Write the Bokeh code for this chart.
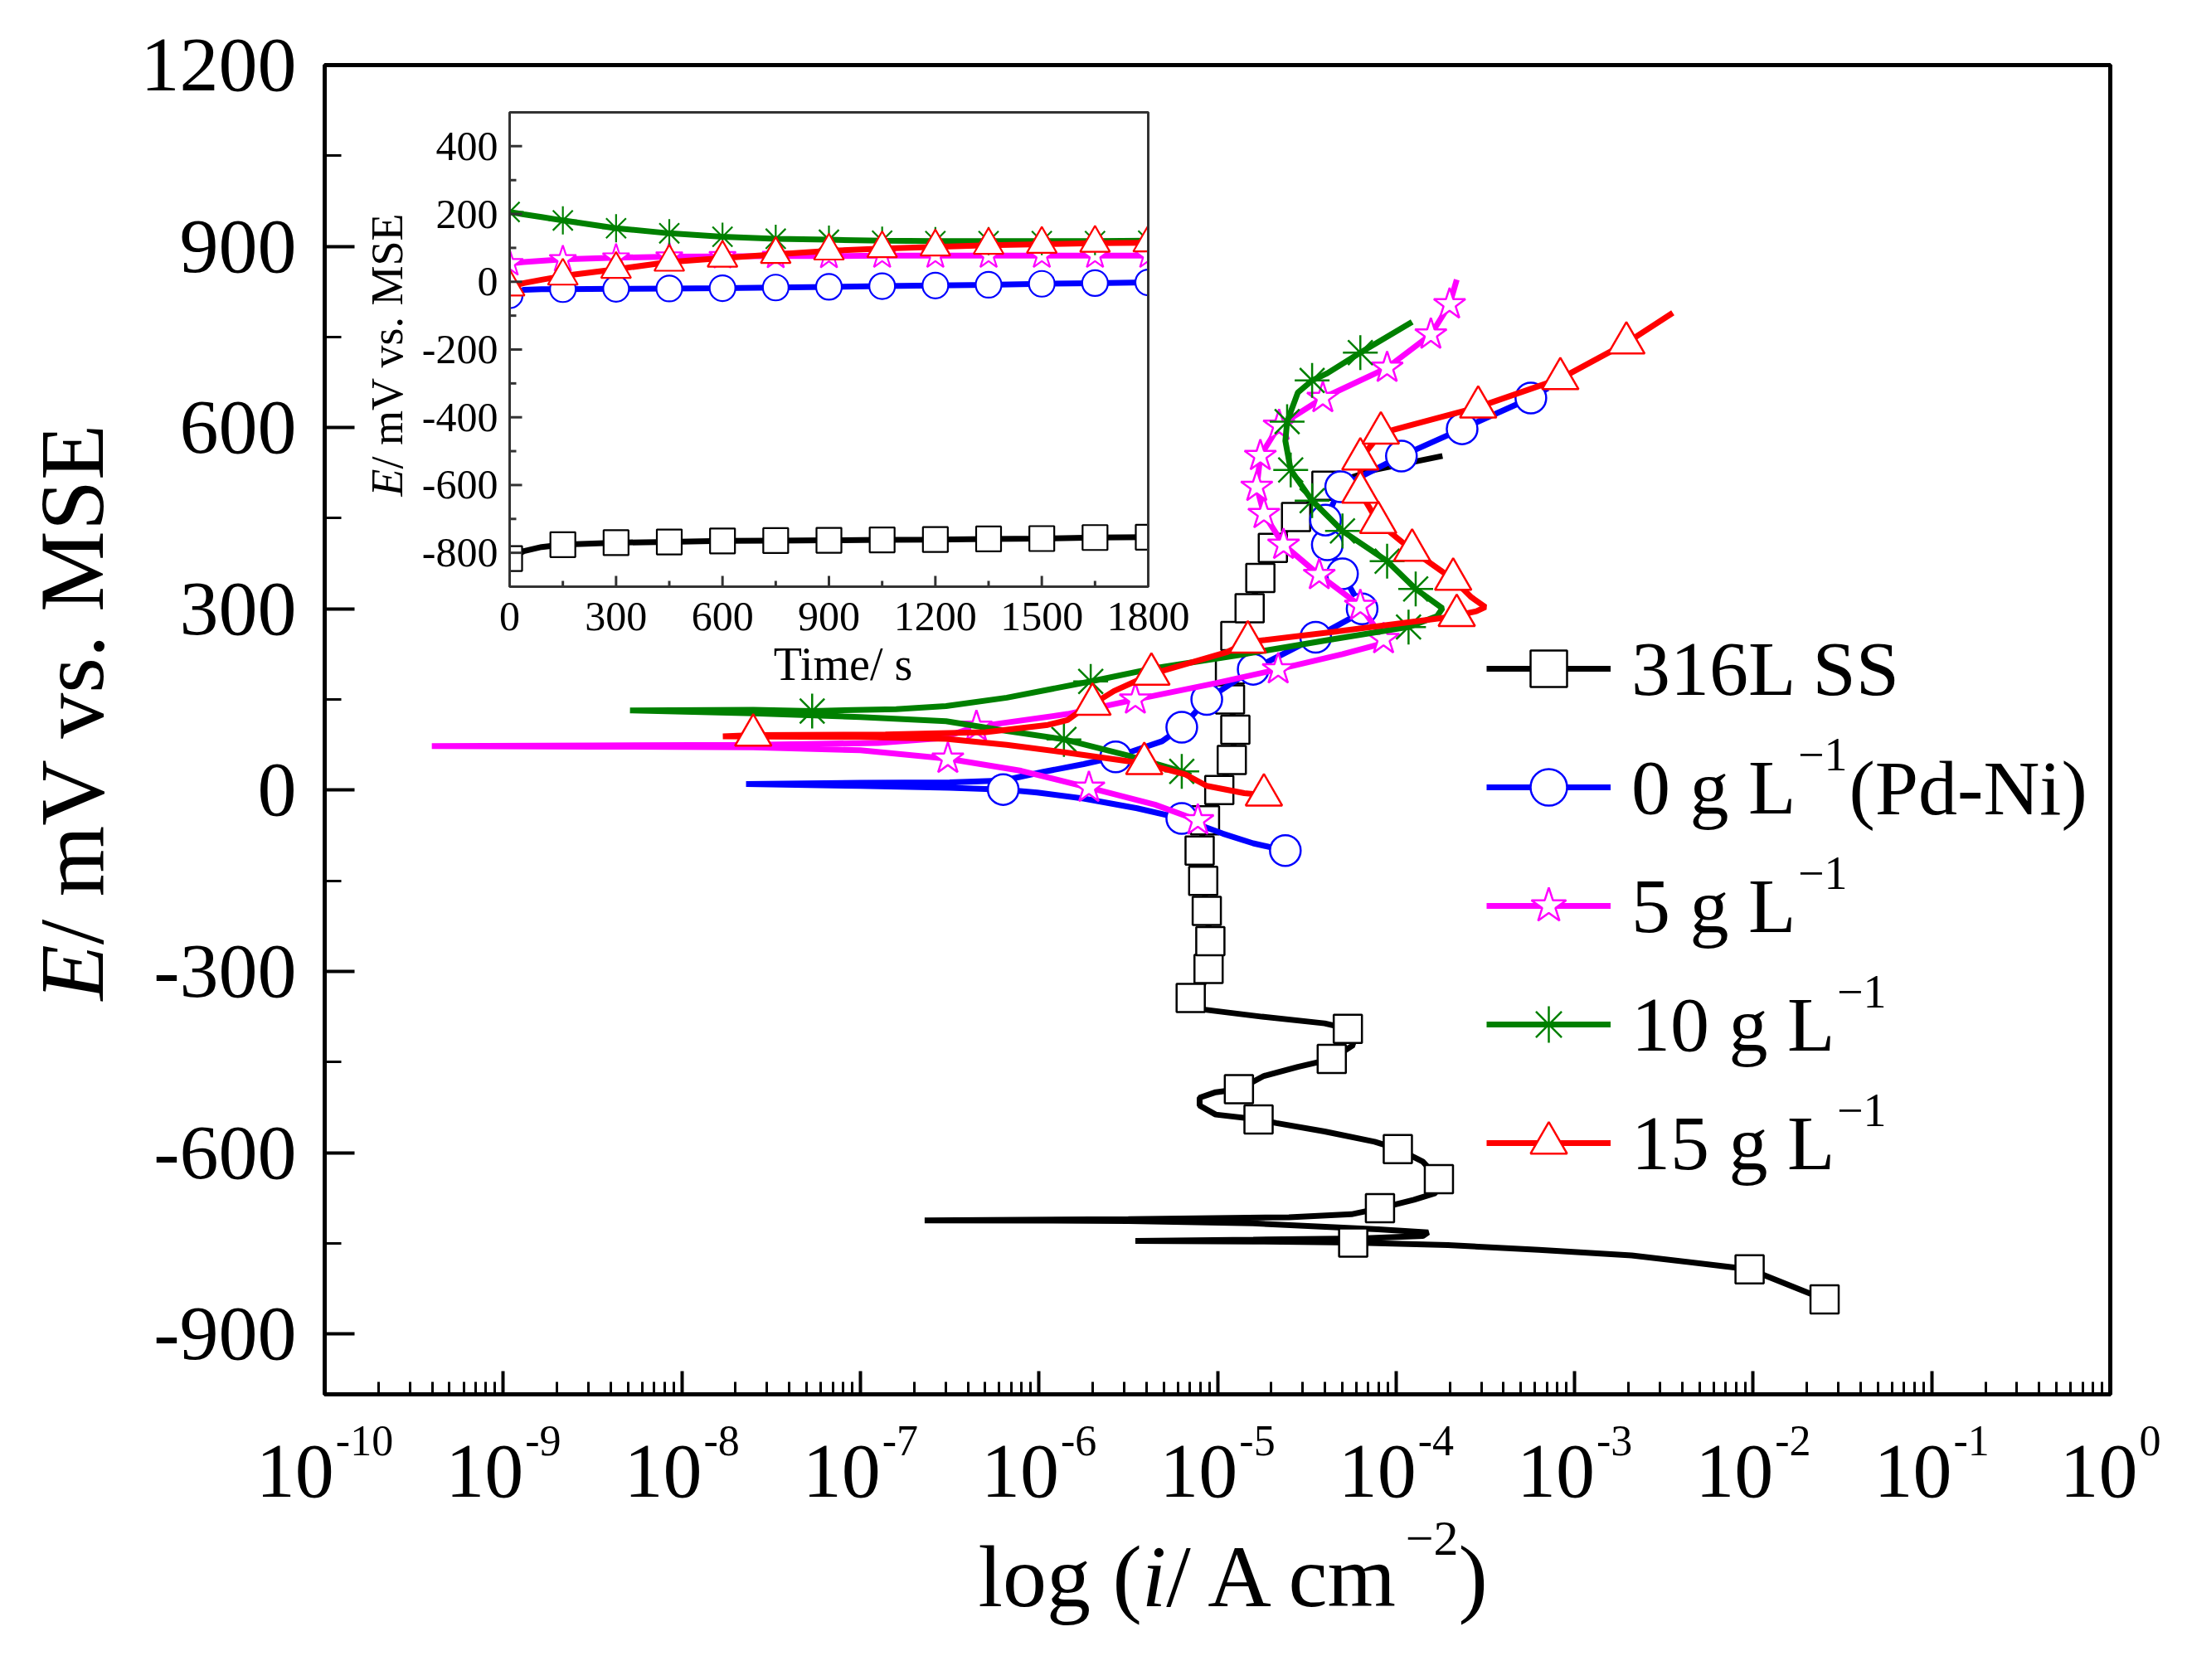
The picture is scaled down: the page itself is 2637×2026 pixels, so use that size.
import numpy as np
from bokeh.plotting import figure
from bokeh.layouts import row, column
from bokeh.models import (Range1d, FixedTicker, Label, Legend, LegendItem,
                          CustomJSTickFormatter, LinearScale)
from bokeh.embed import file_html
from bokeh.resources import INLINE
from bokeh.core.properties import value

# ---------------- main polarization curves: log10(i / A cm^-2) and E / mV vs. MSE ----------------
ss_logi = [-1.60, -2.02, -2.68, -3.20, -3.71, -4.24, -4.80, -5.46, -4.80, -4.20, -3.85, -3.82, -4.10,
           -4.80, -5.50, -6.64, -5.50, -4.60, -4.25, -4.09, -3.90, -3.78, -3.76, -3.85, -3.99, -4.12,
           -4.40, -4.67, -4.77, -5.01, -5.10, -5.10, -5.01, -4.88, -4.74, -4.55, -4.36, -4.24, -4.27,
           -4.40, -4.75, -5.08, -5.15, -5.08, -5.05, -5.04, -5.06, -5.08, -5.10, -5.07, -4.99, -4.92,
           -4.90, -4.93, -4.93, -4.90, -4.82, -4.76, -4.69, -4.56, -4.39, -4.12, -3.74]
ss_E = [-843, -793, -770, -761, -753, -749, -747, -746, -744, -742, -738, -732, -727, -717, -713, -712,
        -710, -707, -702, -692, -678, -667, -644, -615, -594, -582, -565, -551, -545, -537, -522, -509,
        -500, -495, -473, -458, -445, -422, -395, -386, -375, -363, -344, -322, -296, -250, -200, -150,
        -100, -50, 0, 50, 100, 150, 200, 255, 301, 351, 401, 452, 504, 530, 553]
ss_mk = [0, 1, 5, 19, 22, 24, 28, 33, 36, 38, 42, 44, 45, 46, 47, 48, 49, 50, 51, 52, 53, 54, 55, 56,
         57, 58, 59, 60]

bl_logi = [-4.62, -4.80, -4.97, -5.20, -5.45, -5.75, -6.01, -6.20, -6.50, -7.00, -7.64, -7.00, -6.50,
           -6.20, -5.98, -5.75, -5.57, -5.31, -5.20, -5.06, -4.80, -4.45, -4.25, -4.19, -4.30, -4.385,
           -4.395, -4.31, -3.97, -3.63, -3.245, -3.15]
bl_E = [-100, -88, -72, -47, -30, -14, -4, 1, 4, 7, 10, 12, 13, 16, 30, 43, 55, 81, 104, 150, 200, 253,
        285, 300, 358, 406, 447, 502, 553, 598, 649, 665]
bl_mk = [0, 3, 7, 16, 18, 19, 20, 21, 23, 24, 25, 26, 27, 28, 29, 30]

mg_logi = [-5.11, -5.35, -5.72, -6.10, -6.51, -7.00, -7.60, -8.50, -9.40, -8.50, -7.60, -6.90, -6.55,
           -6.35, -5.84, -5.46, -5.01, -4.66, -4.30, -4.10, -4.07, -4.20, -4.43, -4.63, -4.74, -4.78,
           -4.76, -4.655, -4.41, -4.05, -3.805, -3.70, -3.66]
mg_E = [-50, -24, 4, 32, 52, 66, 71, 72, 73, 74, 75, 78, 86, 105, 126, 150, 177, 200, 225, 241, 250,
        305, 356, 406, 457, 502, 553, 603, 649, 699, 754, 804, 845]
mg_mk = [0, 2, 4, 13, 15, 17, 20, 21, 22, 23, 24, 25, 26, 27, 28, 29, 30, 31]

gr_logi = [-5.15, -5.20, -5.51, -5.86, -6.18, -6.52, -7.00, -7.60, -8.29, -7.60, -7.27, -6.80, -6.52,
           -6.18, -5.71, -5.35, -4.85, -4.35, -3.93, -3.77, -3.74, -3.89, -4.05, -4.30, -4.47, -4.59,
           -4.62, -4.61, -4.55, -4.47, -4.385, -4.20, -3.91]
gr_E = [24, 31, 58, 84, 98, 114, 121, 127, 132, 133, 131, 134, 139, 153, 180, 202, 225, 250, 270, 288,
        301, 333, 379, 429, 479, 530, 578, 610, 658, 678, 690, 724, 775]
gr_mk = [1, 3, 10, 14, 18, 21, 22, 23, 24, 25, 27, 29, 31]

rd_logi = [-4.74, -4.85, -5.06, -5.18, -5.41, -5.84, -6.18, -6.52, -7.00, -7.77, -7.60, -6.86, -6.30,
           -5.95, -5.84, -5.75, -5.70, -5.58, -5.37, -4.95, -4.83, -4.35, -3.74, -3.66, -3.55, -3.50,
           -3.577, -3.68, -3.91, -4.10, -4.20, -4.20, -4.085, -4.02, -3.54, -3.08, -2.71, -2.45]
rd_E = [-8, -5, 7, 26, 44, 62, 75, 85, 88, 89, 91, 92, 96, 108, 116, 135, 142, 164, 192, 228, 245, 262,
        285, 289, 296, 303, 319, 349, 397, 443, 493, 548, 591, 596, 634, 681, 740, 790]
rd_mk = [0, 4, 10, 16, 18, 20, 23, 27, 28, 29, 30, 31, 32, 34, 35, 36]

# ---------------- inset: open circuit potential vs time ----------------
ins_t = [0, 40, 90, 150, 300, 450, 600, 750, 900, 1050, 1200, 1350, 1500, 1650, 1800]
ins_mk = [0, 3, 4, 5, 6, 7, 8, 9, 10, 11, 12, 13, 14]
ss_ocp = [-817, -795, -783, -776, -770, -768, -765, -764, -763, -762, -761, -759, -758, -755, -754]
bl_ocp = [-40, -24, -22, -22, -21, -20, -19, -17, -15, -13, -11, -9, -6, -4, -2]
mg_ocp = [54, 58, 62, 66, 71, 74, 75, 76, 76, 77, 77, 77, 77, 77, 77]
gr_ocp = [206, 199, 191, 181, 158, 143, 133, 127, 124, 121, 120, 120, 120, 120, 121]
rd_ocp = [-15, -4, 6, 17, 37, 58, 70, 81, 91, 98, 103, 108, 111, 114, 115]

x_exps = list(range(-10, 1))
x_major = [float(f"1e{k}") for k in x_exps]
x_minor = [m * float(f"1e{k}") for k in range(-10, 0) for m in range(2, 10)]
y_major = [-900, -600, -300, 0, 300, 600, 900, 1200]
y_minor = [-750, -450, -150, 150, 450, 750, 1050]
ins_y_major = [-800, -600, -400, -200, 0, 200, 400]
ins_y_minor = [-700, -500, -300, -100, 100, 300]
ins_x_major = [0, 300, 600, 900, 1200, 1500, 1800]
ins_x_minor = [150, 450, 750, 1050, 1350, 1650]

series = [
    dict(name="316L SS", sup=None, logi=ss_logi, E=ss_E, mk=ss_mk, ocp=ss_ocp, color="#000000",
         marker="square", size=34, isize=30),
    dict(name="0 g L", sup="(Pd-Ni)", logi=bl_logi, E=bl_E, mk=bl_mk, ocp=bl_ocp, color="#0000FF",
         marker="circle", size=37, isize=31),
    dict(name="5 g L", sup="", logi=mg_logi, E=mg_E, mk=mg_mk, ocp=mg_ocp, color="#FF00FF",
         marker="star", size=40, isize=34),
    dict(name="10 g L", sup="", logi=gr_logi, E=gr_E, mk=gr_mk, ocp=gr_ocp, color="#008000",
         marker="asterisk", size=42, isize=34),
    dict(name="15 g L", sup="", logi=rd_logi, E=rd_E, mk=rd_mk, ocp=rd_ocp, color="#FF0000",
         marker="triangle", size=44, isize=36),
]

FONT = "Liberation Serif"
# ---------------- page layout (px) ----------------
PAGE_W, PAGE_H = 2630, 2020
YF_W = 150                                   # strip left of the main figure (y title)
FRAME_L, FRAME_R, FRAME_T, FRAME_B = 391, 2544, 78, 1681
MAIN_W = PAGE_W - YF_W
MAIN_BB = 20
MAIN_H = FRAME_B + MAIN_BB
XF_H = PAGE_H - MAIN_H                      # strip under everything (x labels)
FW, FH = FRAME_R - FRAME_L, FRAME_B - FRAME_T
DEC = FW / 10.0                              # px per decade

p = figure(width=MAIN_W, height=MAIN_H, x_axis_type="log", x_range=Range1d(1e-10, 1.0),
           y_range=Range1d(-1000, 1200), output_backend="svg", toolbar_location=None,
           min_border_left=FRAME_L - YF_W, min_border_right=PAGE_W - FRAME_R,
           min_border_top=FRAME_T, min_border_bottom=MAIN_BB)
p.background_fill_color = "white"
p.border_fill_color = "white"
p.grid.visible = False
p.outline_line_color = "black"
p.outline_line_width = 5

p.xaxis.ticker = FixedTicker(ticks=x_major, minor_ticks=x_minor)
p.xaxis.formatter = CustomJSTickFormatter(code="return '';")
p.yaxis.ticker = FixedTicker(ticks=y_major, minor_ticks=y_minor)
p.yaxis.major_label_overrides = {t: str(t) for t in y_major}
for ax, (mj, mn) in ((p.xaxis, (28, 15)), (p.yaxis, (36, 20))):
    ax.axis_line_width = 5
    ax.major_tick_in = mj
    ax.major_tick_out = 0
    ax.minor_tick_in = mn
    ax.minor_tick_out = 0
    ax.major_tick_line_width = 4
    ax.minor_tick_line_width = 3
    ax.major_label_text_font = FONT
    ax.major_label_text_color = "black"
p.yaxis.major_label_text_font_size = "94px"
p.yaxis.major_label_standoff = 34
p.xaxis.major_label_text_font_size = "1px"
p.xaxis.major_label_standoff = 0

# main curves
items = []
for s in series:
    cur = 10.0 ** np.array(s["logi"])
    E = np.array(s["E"], dtype=float)
    mk = np.array(s["mk"])
    lr = p.line(cur, E, line_color=s["color"], line_width=7)
    sr = p.scatter(cur[mk], E[mk], marker=s["marker"], size=s["size"], line_color=s["color"],
                   fill_color="white", line_width=2.5)
    items.append(LegendItem(label=s["name"], renderers=[lr, sr]))

# ---------------- inset (drawn on extra linear ranges) ----------------
IL, IR, IT, IB = 223, 993, 57, 629          # inset box in px relative to frame top-left
T0, T1, E0, E1 = 0, 1800, -900, 500
sx = (IR - IL) / (T1 - T0)
sy = (IB - IT) / (E1 - E0)
p.extra_x_ranges = {"tx": Range1d(T0 - IL / sx, T1 + (FW - IR) / sx)}
p.extra_y_ranges = {"ty": Range1d(E0 - (FH - IB) / sy, E1 + IT / sy)}
p.extra_x_scales = {"tx": LinearScale()}
p.extra_y_scales = {"ty": LinearScale()}
kw = dict(x_range_name="tx", y_range_name="ty")

p.quad(left=[T0], right=[T1], bottom=[E0], top=[E1], fill_color="white", line_color=None, **kw)
tt = np.array(ins_t, dtype=float)
imk = np.array(ins_mk)
for s in series:
    v = np.array(s["ocp"], dtype=float)
    p.line(tt, v, line_color=s["color"], line_width=7, **kw)
    p.scatter(tt[imk], v[imk], marker=s["marker"], size=s["isize"], line_color=s["color"],
              fill_color="white", line_width=2.2, **kw)
M = 30
mx, my = M / sx, M / sy
p.quad(left=[T0 - mx, T1, T0 - mx, T0 - mx], right=[T0, T1 + mx, T1 + mx, T1 + mx],
       bottom=[E0 - my, E0 - my, E1, E0 - my], top=[E1 + my, E1 + my, E1 + my, E0],
       fill_color="white", line_color=None, **kw)
p.quad(left=[T0], right=[T1], bottom=[E0], top=[E1], fill_color=None, line_color="#333333",
       line_width=3, **kw)
p.segment(x0=[T0] * 7, y0=ins_y_major, x1=[T0 + 15 / sx] * 7, y1=ins_y_major,
          line_color="#333333", line_width=3, **kw)
p.segment(x0=[T0] * 6, y0=ins_y_minor, x1=[T0 + 8 / sx] * 6, y1=ins_y_minor,
          line_color="#333333", line_width=3, **kw)
p.segment(x0=ins_x_major, y0=[E0] * 7, x1=ins_x_major, y1=[E0 + 13 / sy] * 7,
          line_color="#333333", line_width=3, **kw)
p.segment(x0=ins_x_minor, y0=[E0] * 6, x1=ins_x_minor, y1=[E0 + 7 / sy] * 6,
          line_color="#333333", line_width=3, **kw)
p.text(x=[T0] * 7, y=ins_y_major, text=[str(v) for v in ins_y_major], x_offset=-14,
       text_align="right", text_baseline="middle", text_font=value(FONT),
       text_font_size="50px", text_color="black", **kw)
p.text(x=ins_x_major, y=[E0] * 7, text=[str(v) for v in ins_x_major], y_offset=36,
       text_align="center", text_baseline="middle", text_font=value(FONT),
       text_font_size="50px", text_color="black", **kw)
p.text(x=[(T0 + T1) / 2], y=[E0], text=["Time/ s"], x_offset=17, y_offset=93,
       text_align="center", text_baseline="middle", text_font=value(FONT),
       text_font_size="56px", text_color="black", **kw)
IYF = 54
p.text(x=[T0], y=[E0], text=["E"], x_offset=-148, y_offset=-109, angle=np.pi / 2,
       text_align="left", text_baseline="middle", text_font=value(FONT),
       text_font_style="italic", text_font_size=f"{IYF}px", text_color="black", **kw)
p.text(x=[T0], y=[E0], text=["/ mV vs. MSE"], x_offset=-148, y_offset=-109 - 0.611 * IYF,
       angle=np.pi / 2, text_align="left", text_baseline="middle", text_font=value(FONT),
       text_font_size=f"{IYF}px", text_color="black", **kw)

# ---------------- legend ----------------
LX, LTOP, LH, LSP, GW, LSO, LF = 1401, 673, 110, 33, 150, 25, 94
nL = len(items)
leg_bottom = FH - (LTOP + nL * LH + (nL - 1) * LSP)
legend = Legend(items=items, location=(LX, leg_bottom), orientation="vertical",
                label_text_font=FONT, label_text_font_size=f"{LF}px", label_text_color="black",
                glyph_width=GW, glyph_height=LH, label_height=LH, label_standoff=LSO,
                spacing=LSP, padding=0, margin=0, border_line_color=None,
                background_fill_alpha=0.0)
p.add_layout(legend)
name_w = {"0 g L": 2.111, "5 g L": 2.111, "10 g L": 2.611, "15 g L": 2.611}
tx0 = LX + GW + LSO
for i, s in enumerate(series):
    if s["sup"] is None:
        continue
    cy = LTOP + LH / 2 + i * (LH + LSP)
    sxp = tx0 + name_w[s["name"]] * LF + 2
    p.add_layout(Label(x=sxp, y=FH - (cy - 40), x_units="screen", y_units="screen",
                       text="\u22121", text_align="left", text_baseline="middle",
                       text_font=FONT, text_font_size="56px", text_color="black"))
    if s["sup"]:
        p.add_layout(Label(x=sxp + 1.064 * 56 + 2, y=FH - cy, x_units="screen",
                           y_units="screen", text=s["sup"], text_align="left",
                           text_baseline="middle", text_font=FONT,
                           text_font_size=f"{LF}px", text_color="black"))

# ---------------- strip below (full page width): x tick labels 10^k and x title ----------------
xf = figure(width=PAGE_W, height=XF_H, x_axis_type="log",
            x_range=Range1d(10 ** (-10 - FRAME_L / DEC), 10 ** ((PAGE_W - FRAME_R) / DEC)),
            y_range=Range1d(0, 1), output_backend="svg", toolbar_location=None,
            min_border=0, min_border_left=0, min_border_right=0, min_border_top=0,
            min_border_bottom=0)
xf.axis.visible = False
xf.grid.visible = False
xf.outline_line_color = None
xf.background_fill_color = "white"
xf.border_fill_color = "white"
F10, FEX = 94, 52
Y10 = PAGE_H - 1774
YEX = PAGE_H - 1737
for k in x_exps:
    ex = str(k)
    w10 = 2 * 0.5 * F10
    wex = ((0.333 if k < 0 else 0) + 0.5 * len(str(abs(k)))) * FEX
    Wt = w10 + 2 + wex
    xf.add_layout(Label(x=float(f"1e{k}"), y=Y10, x_units="data", y_units="screen", text="10",
                        text_align="right", text_baseline="middle", x_offset=-Wt / 2 + w10,
                        text_font=FONT, text_font_size=f"{F10}px", text_color="black"))
    xf.add_layout(Label(x=float(f"1e{k}"), y=YEX, x_units="data", y_units="screen", text=ex,
                        text_align="left", text_baseline="middle", x_offset=-Wt / 2 + w10 + 2,
                        text_font=FONT, text_font_size=f"{FEX}px", text_color="black"))
XL = 106
cx = 1179
parts = [("log (", "normal", XL, 1.861 * XL, PAGE_H - 1901),
         ("i", "italic", XL, 0.278 * XL, PAGE_H - 1901),
         ("/ A cm", "normal", XL, 2.722 * XL, PAGE_H - 1901),
         ("\u22122", "normal", 60, 1.064 * 60, PAGE_H - 1855),
         (")", "normal", XL, 0.333 * XL, PAGE_H - 1901)]
for txt, sty, fs, wd, yy in parts:
    xf.add_layout(Label(x=cx, y=yy, x_units="screen", y_units="screen", text=txt,
                        text_align="left", text_baseline="middle", text_font=FONT,
                        text_font_style=sty, text_font_size=f"{fs}px", text_color="black"))
    cx += wd

# ---------------- strip left: y title ----------------
yf = figure(width=YF_W, height=MAIN_H, x_range=Range1d(0, 1), y_range=Range1d(0, 1),
            output_backend="svg", toolbar_location=None, min_border=0, min_border_left=0,
            min_border_right=0, min_border_top=0, min_border_bottom=0)
yf.axis.visible = False
yf.grid.visible = False
yf.outline_line_color = None
yf.background_fill_color = "white"
yf.border_fill_color = "white"
YL = 110
YL_X = 86
YL_Y0 = MAIN_H - 1226
yf.add_layout(Label(x=YL_X, y=YL_Y0, x_units="screen", y_units="screen", text="E",
                    angle=np.pi / 2, text_align="left", text_baseline="middle", text_font=FONT,
                    text_font_style="italic", text_font_size=f"{YL}px", text_color="black"))
yf.add_layout(Label(x=YL_X, y=YL_Y0 + 0.611 * YL, x_units="screen", y_units="screen",
                    text="/ mV vs. MSE", angle=np.pi / 2, text_align="left",
                    text_baseline="middle", text_font=FONT, text_font_size=f"{YL}px",
                    text_color="black"))

layout = column(row(yf, p, spacing=0), xf, spacing=0)
open("out.html", "w").write(file_html(layout, INLINE))
